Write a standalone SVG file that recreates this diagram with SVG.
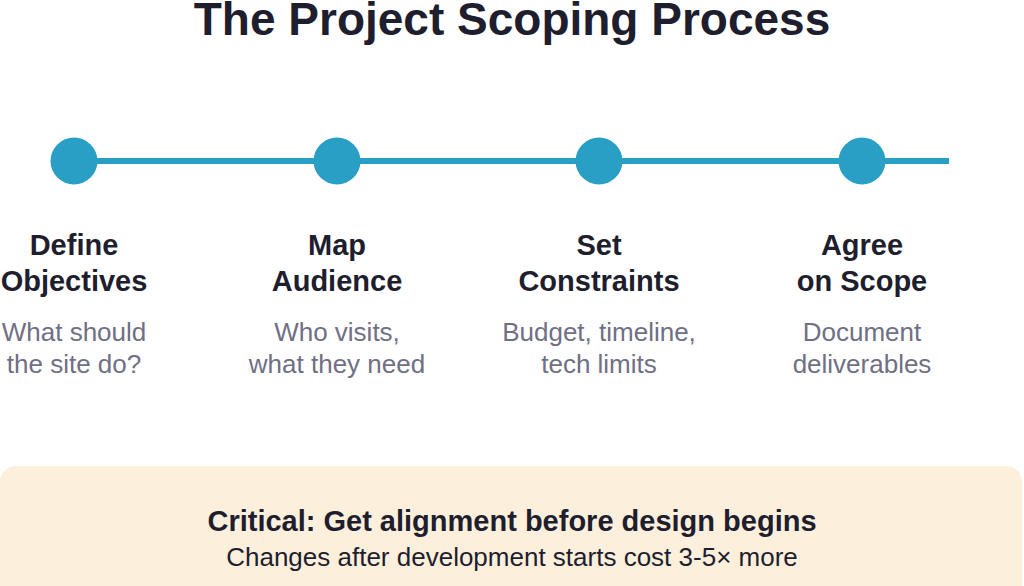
<svg xmlns="http://www.w3.org/2000/svg" width="1024" height="586" viewBox="0 0 1024 586">
<style>
.title{font-family:"Liberation Sans",Arial,sans-serif;font-weight:700;font-size:46px;fill:#1e1e2e;text-anchor:middle}
.step{font-family:"Liberation Sans",Arial,sans-serif;font-weight:700;font-size:29px;fill:#1e1e2e;text-anchor:middle}
.desc{font-family:"Liberation Sans",Arial,sans-serif;font-size:26px;fill:#6f6f85;text-anchor:middle}
.crit{font-family:"Liberation Sans",Arial,sans-serif;font-weight:700;font-size:29px;fill:#1e1e2e;text-anchor:middle}
.sub{font-family:"Liberation Sans",Arial,sans-serif;font-size:26px;fill:#1e1e2e;text-anchor:middle}
.dot{fill:#2a9fc6}
</style>
<rect width="1024" height="586" fill="#ffffff"/>
<text class="title" x="512" y="35">The Project Scoping Process</text>
<g id="connectors">
<line x1="74" y1="161" x2="949" y2="161" stroke="#2a9fc6" stroke-width="6"/>
</g>
<g id="step1">
<circle class="dot" cx="74" cy="161" r="23.5"/>
<text class="step" x="74" y="255">Define</text>
<text class="step" x="74" y="291">Objectives</text>
<text class="desc" x="74" y="341">What should</text>
<text class="desc" x="74" y="373">the site do?</text>
</g>
<g id="step2">
<circle class="dot" cx="337" cy="161" r="23.5"/>
<text class="step" x="337" y="255">Map</text>
<text class="step" x="337" y="291">Audience</text>
<text class="desc" x="337" y="341">Who visits,</text>
<text class="desc" x="337" y="373">what they need</text>
</g>
<g id="step3">
<circle class="dot" cx="599" cy="161" r="23.5"/>
<text class="step" x="599" y="255">Set</text>
<text class="step" x="599" y="291">Constraints</text>
<text class="desc" x="599" y="341">Budget, timeline,</text>
<text class="desc" x="599" y="373">tech limits</text>
</g>
<g id="step4">
<circle class="dot" cx="862" cy="161" r="23.5"/>
<text class="step" x="862" y="255">Agree</text>
<text class="step" x="862" y="291">on Scope</text>
<text class="desc" x="862" y="341">Document</text>
<text class="desc" x="862" y="373">deliverables</text>
</g>
<g id="callout">
<rect x="0" y="466" width="1022" height="140" rx="16" fill="#fcefdc"/>
<text class="crit" x="512" y="531">Critical: Get alignment before design begins</text>
<text class="sub" x="512" y="566">Changes after development starts cost 3-5× more</text>
</g>
</svg>
